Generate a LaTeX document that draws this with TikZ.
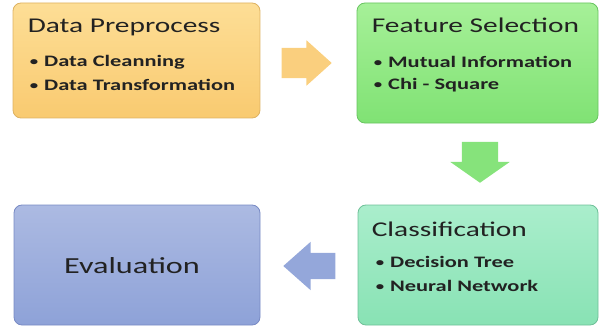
\documentclass[tikz,border=0pt]{standalone}
\usepackage{fontspec}
\setmainfont{Carlito}[FakeStretch=1.4]
\usetikzlibrary{shapes.arrows, positioning, calc}
\definecolor{pretop}{RGB}{253, 222, 150}
\definecolor{prebot}{RGB}{249, 202, 112}
\definecolor{preline}{RGB}{222, 178, 98}
\definecolor{featop}{RGB}{166, 240, 152}
\definecolor{feabot}{RGB}{128, 226, 116}
\definecolor{fealine}{RGB}{104, 196, 96}
\definecolor{clatop}{RGB}{170, 238, 204}
\definecolor{clabot}{RGB}{136, 226, 180}
\definecolor{claline}{RGB}{110, 192, 152}
\definecolor{evatop}{RGB}{172, 186, 226}
\definecolor{evabot}{RGB}{142, 162, 216}
\definecolor{evaline}{RGB}{120, 138, 196}
\definecolor{txt}{RGB}{34, 34, 34}
\newcommand{\itm}[1]{\raisebox{1.2pt}{\scalebox{0.75}{\textbullet}}\hspace{6pt}#1}

\begin{document}
\begin{tikzpicture}[
        x=1pt, y=-1pt,
        box/.style={rounded corners=8pt, line width=0.8pt, minimum width=#1, inner sep=0pt},
        title/.style={anchor=base west, inner sep=0pt, text=txt, font=\fontsize{21}{24}\selectfont},
        item/.style={anchor=base west, inner sep=0pt, text=txt, font=\fontsize{16}{18}\selectfont\bfseries},
        blk/.style={single arrow, draw=none, inner xsep=0pt, single arrow head indent=0pt, anchor=tip}
      ]
        \useasboundingbox (0,0) rectangle (603,329);
        % boxes
        \node[box=247pt, minimum height=115pt, draw=preline, top color=pretop, bottom color=prebot] (pre) at (136.5,60.5) {};
        \node[box=241pt, minimum height=120pt, draw=fealine, top color=featop, bottom color=feabot] (fea) at (477.5,63) {};
        \node[box=240pt, minimum height=120pt, draw=claline, top color=clatop, bottom color=clabot] (cla) at (478,265) {};
        \node[box=246pt, minimum height=120pt, draw=evaline, top color=evatop, bottom color=evabot] (eva) at (137,265) {};
        % texts
        \node[title] (preT) at ($(pre.north west)+(15,30)$) {Data Preprocess};
        \node[item] (preA) at ($(pre.north west)+(17,64)$) {\itm{Data Cleanning}};
        \node[item] (preB) at ($(pre.north west)+(17,88)$) {\itm{Data Transformation}};
        \node[title] (feaT) at ($(fea.north west)+(15,30)$) {Feature Selection};
        \node[item] (feaA) at ($(fea.north west)+(17,65)$) {\itm{Mutual Information}};
        \node[item] (feaB) at ($(fea.north west)+(17,87)$) {\itm{Chi - Square}};
        \node[title] (claT) at ($(cla.north west)+(14,32)$) {Classification};
        \node[item] (claA) at ($(cla.north west)+(18,63)$) {\itm{Decision Tree}};
        \node[item] (claB) at ($(cla.north west)+(18,87)$) {\itm{Neural Network}};
        \node[text=txt, font=\fontsize{23}{26}\selectfont] (evaT) at ($(eva.center)+(-5,1)$) {Evaluation};
        % block arrows
        \node[blk, fill=prebot!90, inner ysep=15pt, minimum height=50pt, single arrow head extend=7.5pt, single arrow tip angle=84] (a1) at (332,63) {};
        \node[blk, fill=feabot!95, inner ysep=18pt, minimum height=41pt, single arrow head extend=11.5pt, single arrow tip angle=110, rotate=-90] (a2) at (480,183) {};
        \node[blk, fill=evabot!95, inner ysep=13pt, minimum height=52pt, single arrow head extend=11pt, single arrow tip angle=83, rotate=180] (a3) at (283,266) {};
      \end{tikzpicture}
\end{document}
